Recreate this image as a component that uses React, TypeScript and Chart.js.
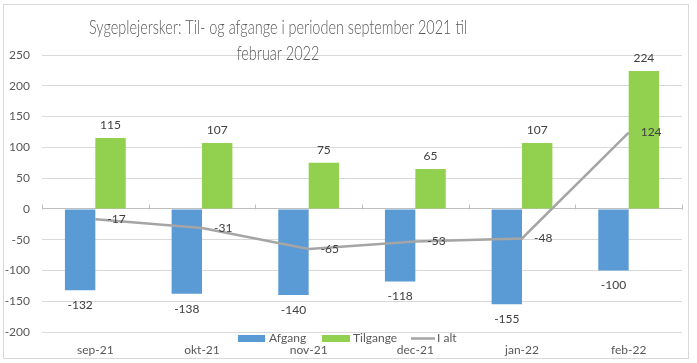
import React, { useEffect, useRef } from "react";
import { Chart, registerables } from "chart.js";

Chart.register(...registerables);

const categories = ["sep-21", "okt-21", "nov-21", "dec-21", "jan-22", "feb-22"];
const afgang = [-132, -138, -140, -118, -155, -100];
const tilgange = [115, 107, 75, 65, 107, 224];
const iAlt = [-17, -31, -65, -53, -48, 124];
const titleLines = ["Sygeplejersker: Til- og afgange i perioden september 2021 til", "februar 2022"];
const seriesNames = ["Afgang", "Tilgange", "I alt"];
const yMin = -200;
const yMax = 250;
const yStep = 50;

const FONT = "Lato, 'Liberation Sans', sans-serif";
const BLUE = "#5B9BD5";
const GREEN = "#92D050";
const GRAY = "#A5A5A5";
const TEXT = "#404040";
const AXIS_TEXT = "#595959";

const decorPlugin = {
  id: "decor",
  beforeDraw(chart: any) {
    const ctx = chart.ctx;
    ctx.save();
    ctx.fillStyle = "#ffffff";
    ctx.fillRect(0, 0, chart.width, chart.height);
    ctx.strokeStyle = "#D9D9D9";
    ctx.lineWidth = 1;
    ctx.strokeRect(3.5, 4.5, 685, 354);
    ctx.restore();
  },
  afterDatasetsDraw(chart: any) {
    const ctx = chart.ctx;
    ctx.save();
    ctx.font = `12px ${FONT}`;
    ctx.fillStyle = TEXT;
    chart.data.datasets.forEach((ds: any, di: number) => {
      const meta = chart.getDatasetMeta(di);
      meta.data.forEach((el: any, i: number) => {
        const v = ds.data[i];
        if (ds.type === "line") {
          ctx.textAlign = "left";
          ctx.textBaseline = "middle";
          ctx.fillText(String(v), el.x + 12, el.y);
        } else {
          ctx.textAlign = "center";
          ctx.textBaseline = "middle";
          if (v < 0) ctx.fillText(String(v), el.x, el.y + 15);
          else ctx.fillText(String(v), el.x, el.y - 13);
        }
      });
    });
    // tick marks on zero axis
    const y = chart.scales.y;
    const y0 = Math.round(y.getPixelForValue(0)) + 0.5;
    ctx.strokeStyle = "#BFBFBF";
    ctx.lineWidth = 1;
    const n = categories.length;
    const w = (chart.chartArea.right - chart.chartArea.left) / n;
    for (let i = 0; i <= n; i++) {
      const xx = Math.round(chart.chartArea.left + i * w) + 0.5;
      ctx.beginPath();
      ctx.moveTo(xx, y0 - 5);
      ctx.lineTo(xx, y0);
      ctx.stroke();
    }
    ctx.restore();
  },
  afterDraw(chart: any) {
    const ctx = chart.ctx;
    ctx.save();
    // title (horizontally condensed to mimic a narrow face)
    ctx.font = `300 19px ${FONT}`;
    ctx.fillStyle = AXIS_TEXT;
    ctx.textAlign = "center";
    ctx.textBaseline = "middle";
    const w1 = ctx.measureText(titleLines[0]).width;
    const sx = 378 / w1;
    ctx.translate(278, 0);
    ctx.scale(sx, 1);
    ctx.fillText(titleLines[0], 0, 28);
    ctx.fillText(titleLines[1], 0, 54);
    ctx.restore();
    ctx.save();
    // legend
    ctx.font = `12px ${FONT}`;
    ctx.textAlign = "left";
    ctx.textBaseline = "middle";
    ctx.fillStyle = BLUE;
    ctx.fillRect(238, 335, 27, 7);
    ctx.fillStyle = GREEN;
    ctx.fillRect(322, 335, 28, 7);
    ctx.strokeStyle = GRAY;
    ctx.lineWidth = 2.5;
    ctx.beginPath();
    ctx.moveTo(411, 338.5);
    ctx.lineTo(435, 338.5);
    ctx.stroke();
    ctx.fillStyle = AXIS_TEXT;
    ctx.fillText(seriesNames[0], 269, 338.5);
    ctx.fillText(seriesNames[1], 353, 338.5);
    ctx.fillText(seriesNames[2], 437, 338.5);
    ctx.restore();
  },
};

export default function App() {
  const ref = useRef<HTMLCanvasElement>(null);
  useEffect(() => {
    document.body.style.margin = "0";
    const chart = new Chart(ref.current as HTMLCanvasElement, {
      type: "bar",
      data: {
        labels: categories,
        datasets: [
          {
            type: "line",
            label: seriesNames[2],
            data: iAlt,
            borderColor: GRAY,
            backgroundColor: GRAY,
            borderWidth: 2.5,
            pointRadius: 0,
            tension: 0,
            order: 0,
          } as any,
          {
            type: "bar",
            label: seriesNames[0],
            data: afgang,
            backgroundColor: BLUE,
            categoryPercentage: 0.57,
            barPercentage: 1,
            order: 1,
          },
          {
            type: "bar",
            label: seriesNames[1],
            data: tilgange,
            backgroundColor: GREEN,
            categoryPercentage: 0.57,
            barPercentage: 1,
            order: 1,
          },
        ],
      },
      options: {
        animation: false,
        responsive: false,
        devicePixelRatio: 1,
        layout: { padding: { top: 55, right: 15, left: 0, bottom: 0 } },
        plugins: {
          legend: { display: false },
          title: { display: false },
          tooltip: { enabled: false },
        },
        scales: {
          x: {
            grid: { display: false, drawTicks: false },
            border: { display: false },
            ticks: {
              padding: 11,
              color: AXIS_TEXT,
              font: { family: FONT, size: 12 },
              maxRotation: 0,
            },
            afterFit(scale: any) {
              scale.height = 31;
            },
          },
          y: {
            min: yMin,
            max: yMax,
            ticks: {
              stepSize: yStep,
              padding: 12,
              color: AXIS_TEXT,
              font: { family: FONT, size: 12 },
            },
            grid: {
              drawTicks: false,
              color: (c: any) => (c.tick && c.tick.value === 0 ? "#BFBFBF" : "#D9D9D9"),
            },
            border: { display: false },
            afterFit(scale: any) {
              scale.width = 42;
            },
          },
        },
      },
      plugins: [decorPlugin],
    });
    return () => chart.destroy();
  }, []);
  return <canvas ref={ref} width={697} height={363} style={{ display: "block" }} />;
}
